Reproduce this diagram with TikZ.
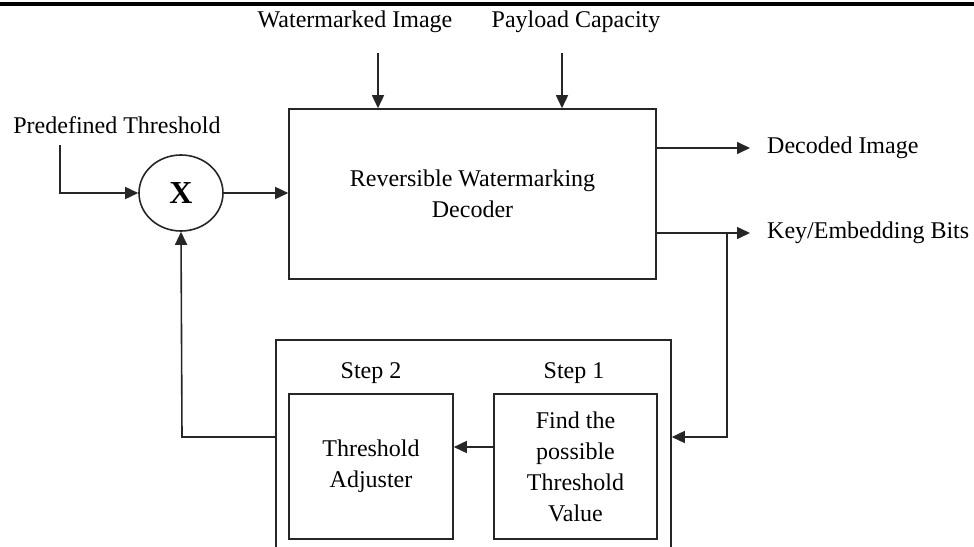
\documentclass[tikz,border=0pt]{standalone}
\usepackage{fontspec}
\setmainfont{Liberation Serif}
\usetikzlibrary{arrows.meta,shapes.geometric}
\begin{document}
\begin{tikzpicture}[x=1pt,y=-1pt,
  ln/.style={line width=1.6pt,draw=black!85},
  arr/.style={ln,-{Triangle[length=13pt,width=12pt]}},
  blk/.style={ln,rectangle,inner sep=0pt,align=center,font=\fontsize{24}{31}\selectfont},
  lbl/.style={inner sep=0pt,font=\fontsize{24}{31}\selectfont,align=center}]
\useasboundingbox (0,0) rectangle (974,546);
% top rule
\fill[black] (0,1.5) rectangle (974,6);
% boxes
\node[blk,minimum width=367pt,minimum height=170pt] (dec) at (472.5,194) {Reversible Watermarking\\Decoder};
\node[ln,ellipse,minimum width=84pt,minimum height=76pt,inner sep=0pt,font=\fontsize{32}{34}\selectfont\bfseries] (circ) at (181,193) {X};
\node[ln,rectangle,minimum width=395pt,minimum height=220pt,inner sep=0pt] (outer) at (473.5,450) {};
\node[blk,minimum width=164pt,minimum height=145pt] (s2) at (371,466.5) {Threshold\\Adjuster};
\node[blk,minimum width=163pt,minimum height=145pt] (s1) at (575.5,466.5) {Find the\\possible\\Threshold\\Value};
% labels
\node[lbl] (wmt) at (355,22) {Watermarked Image};
\node[lbl] (pct) at (576,22) {Payload Capacity};
\node[lbl] (pdt) at (117,125) {Predefined Threshold};
\node[lbl,anchor=west] (dit) at (767,148) {Decoded Image};
\node[lbl,anchor=west] (kbt) at (767,233) {Key/Embedding Bits};
\node[lbl] (st2) at (371,373) {Step 2};
\node[lbl] (st1) at (574,373) {Step 1};
% coordinates
\coordinate (wm) at (378,53);
\coordinate (pc) at (562,53);
\coordinate (pd) at (60,145);
\coordinate (o1) at (750,148);
\coordinate (o2) at (750,233);
\coordinate (br) at (727,233);
\coordinate (fb) at (182,437);
% connectors
\draw[arr] (wm) -- (wm |- dec.north);
\draw[arr] (pc) -- (pc |- dec.north);
\draw[arr] (pd) |- (circ.west);
\draw[arr] (circ.east) -- (circ.east -| dec.west);
\draw[arr] (o1 -| dec.east) -- (o1);
\draw[arr] (o2 -| dec.east) -- (o2);
\draw[arr] (br) |- (fb -| outer.east);
\draw[arr] (s1.west |- 0,447) -- (s2.east |- 0,447);
\draw[arr] (fb -| outer.west) -- (fb) -- (circ.south);
\end{tikzpicture}
\end{document}
